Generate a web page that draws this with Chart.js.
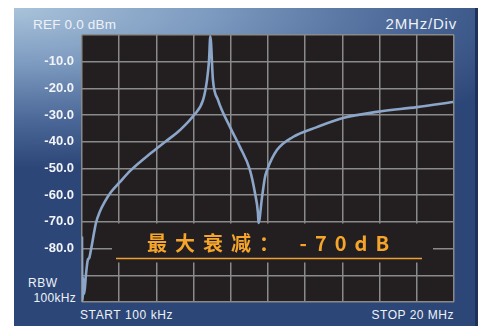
<!DOCTYPE html>
<html>
<head>
<meta charset="utf-8">
<script src="https://cdn.jsdelivr.net/npm/chart.js@4"></script>
<style>
  html, body { margin: 0; padding: 0; background: #fff; }
  #wrap { position: relative; width: 489px; height: 326px; overflow: hidden; }
  .frame {
    position: absolute; left: 14px; top: 8px; width: 461px; height: 318px;
    background: radial-gradient(ellipse 560px 160px at 0 0, #a9c3da 0%, #7d9ac0 35%, #4b6898 70%, #2c4677 100%) #2a4475;
    border-right: 3px solid #1f3158;
  }
  .lbl { position: absolute; color: #eef2f7; font-family: "Liberation Sans", Arial, sans-serif; white-space: nowrap; line-height: 1; }
  canvas { position: absolute; left: 0; top: 0; }
</style>
</head>
<body>
<div id="wrap">
  <div class="frame"></div>
  <div class="lbl" style="left:33px;top:18px;font-size:13.5px;letter-spacing:0.2px;">REF 0.0 dBm</div>
  <div class="lbl" style="right:32px;top:16px;font-size:15px;letter-spacing:0.8px;">2MHz/Div</div>
  <div class="lbl" style="left:28px;top:277px;font-size:12px;letter-spacing:0.5px;">RBW</div>
  <div class="lbl" style="right:413px;top:292px;font-size:12px;letter-spacing:0.3px;">100kHz</div>
  <div class="lbl" style="left:80px;top:309px;font-size:12px;letter-spacing:0.6px;">START 100 kHz</div>
  <div class="lbl" style="right:35px;top:309px;font-size:12px;letter-spacing:0.5px;">STOP 20 MHz</div>
  <canvas id="chartFiltre" width="489" height="326"></canvas>
</div>
<script>
// Dades llegides del gràfic (freqüència en MHz, nivell en dBm)
const freqMHz = [0, 0.02, 0.04, 0.07, 0.12, 0.21, 0.31, 0.39, 0.48, 0.645, 0.75, 0.95, 1.22, 1.56, 2.03, 2.63, 3.71, 4.46, 5.27, 6.02, 6.51, 6.72, 6.83, 6.9,
  7.04, 7.31, 7.96, 8.49, 9.03, 9.30, 9.46, 9.49, 9.68, 9.84, 9.95, 10.48, 11.34, 12.63, 14.03, 15.86, 18.01, 19.95];
const nivellDb = [-75.5, -99.5, -99.5, -91, -97, -90, -84.3, -83.5, -80.5, -74.2, -70.4, -66.3, -62.5, -58.8, -55.1, -50.6, -44.2, -40.1, -35.6, -30.0, -24.3, -16.9, -9.4, -0.5,
  -16.9, -24.3, -34.5, -41.9, -50.6, -59.2, -66.7, -70.4, -60.7, -53.2, -50.6, -43.1, -38.2, -34.5, -31.1, -28.8, -27.0, -25.1];
const yTickValues = [-10, -20, -30, -40, -50, -60, -70, -80];
const yTickLabels = ['-10.0', '-20.0', '-30.0', '-40.0', '-50.0', '-60.0', '-70.0', '-80.0'];
const textAtenuacio = '最大衰减： -70dB';

const colorGraella = '#8a8a8a';

// Fons negre, rètol taronja i línia
const pluginPantalla = {
  id: 'pantalla',
  beforeDraw(chart) {
    const { ctx, chartArea: a } = chart;
    ctx.save();
    ctx.fillStyle = '#231f20';
    ctx.fillRect(a.left, a.top, a.right - a.left, a.bottom - a.top);
    ctx.restore();
  },
  beforeDatasetsDraw(chart) {
    const ctx = chart.ctx;
    ctx.save();
    ctx.fillStyle = '#231f20';
    ctx.fillRect(112, 223.5, 321, 39);
    ctx.fillStyle = '#f5a52b';
    ctx.font = 'bold 20px "Noto Sans CJK SC", sans-serif';
    ctx.textBaseline = 'middle';
    let x = 147;
    for (const ch of textAtenuacio) {
      ctx.fillText(ch, x, 243);
      x += ctx.measureText(ch).width + 8;
    }
    ctx.strokeStyle = '#f0a030';
    ctx.lineWidth = 1.6;
    ctx.beginPath();
    ctx.moveTo(116, 258.5);
    ctx.lineTo(422, 258.5);
    ctx.stroke();
    ctx.restore();
  }
};

const ctx = document.getElementById('chartFiltre').getContext('2d');
new Chart(ctx, {
  type: 'line',
  data: {
    datasets: [{
      data: freqMHz.map((f, i) => ({ x: f, y: nivellDb[i] })),
      borderColor: '#8ba6c9',
      borderWidth: 2.6,
      pointRadius: 0,
      cubicInterpolationMode: 'monotone',
      fill: false
    }]
  },
  options: {
    responsive: false,
    animation: false,
    layout: { padding: { left: 0, top: 35, right: 35, bottom: 24 } },
    plugins: { legend: { display: false }, tooltip: { enabled: false } },
    scales: {
      x: {
        type: 'linear', min: 0, max: 20,
        ticks: { stepSize: 2, display: false },
        grid: { color: colorGraella, lineWidth: 1.5, drawTicks: false },
        border: { display: false },
        afterFit: s => { s.height = 0; }
      },
      y: {
        min: -100, max: 0,
        ticks: {
          stepSize: 10,
          padding: 8,
          color: '#f2f4f8',
          font: { family: '"Liberation Sans", Arial, sans-serif', size: 13, weight: 'bold' },
          callback: v => {
            const i = yTickValues.indexOf(v);
            return i >= 0 ? yTickLabels[i] : '';
          }
        },
        grid: { color: colorGraella, lineWidth: 1.5, drawTicks: false },
        border: { display: false },
        afterFit: s => { s.width = 82; }
      }
    }
  },
  plugins: [pluginPantalla]
});
</script>
</body>
</html>
